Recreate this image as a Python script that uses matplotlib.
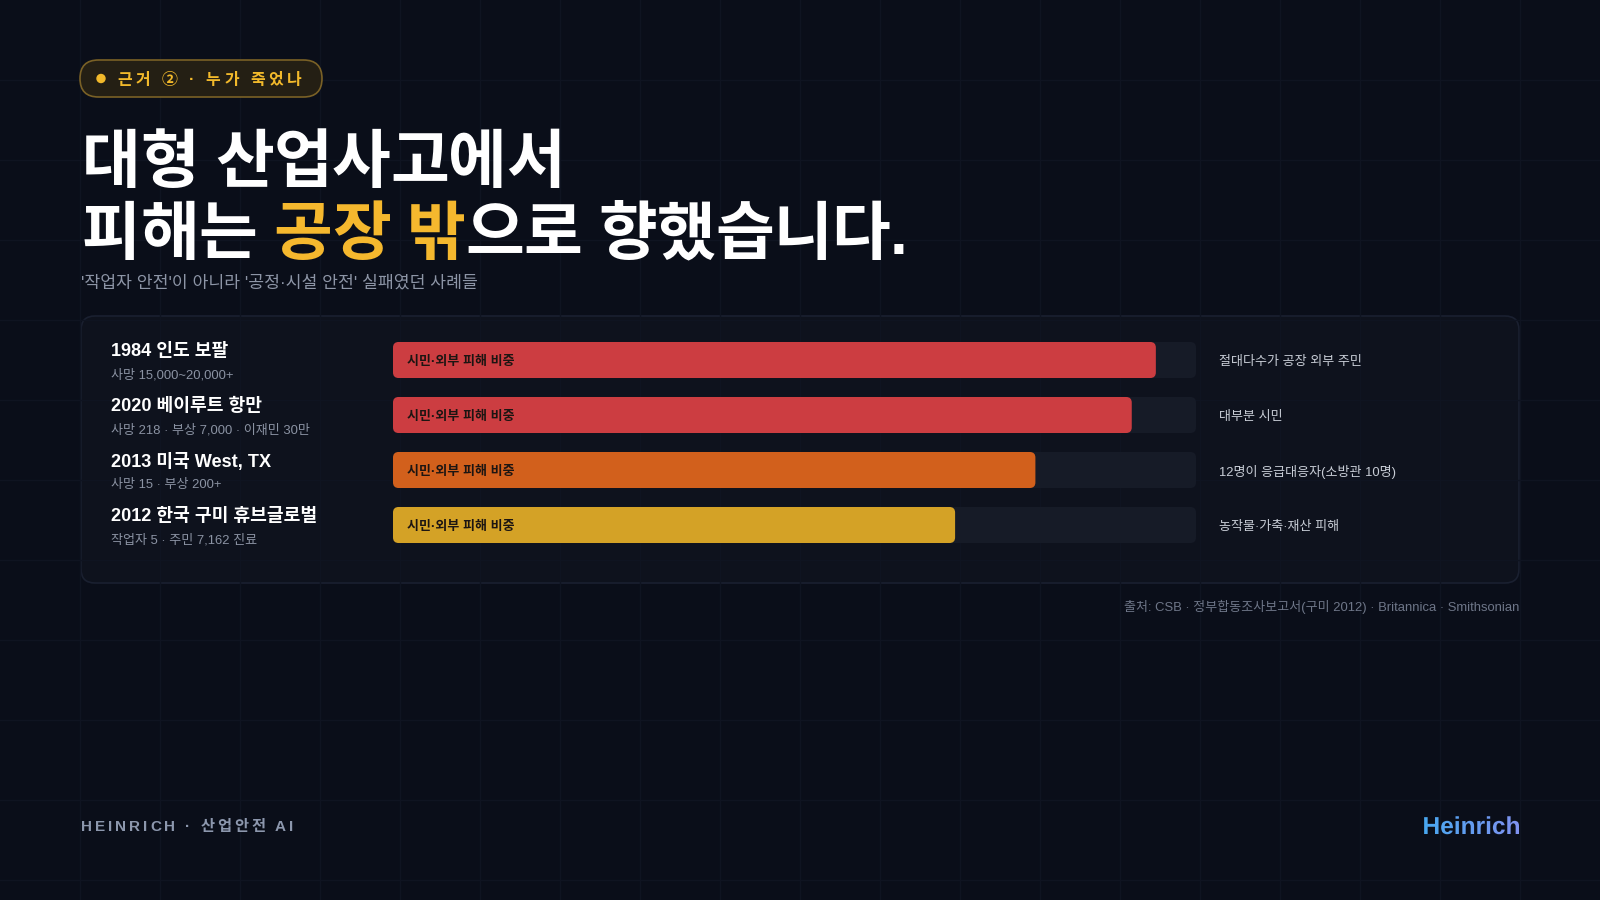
import numpy as np
import matplotlib
matplotlib.use("Agg")
import matplotlib.pyplot as plt
from matplotlib.patches import FancyBboxPatch, Circle, PathPatch
from matplotlib.transforms import blended_transform_factory, Affine2D
from matplotlib.textpath import TextPath
from matplotlib.font_manager import FontProperties
from matplotlib.colors import LinearSegmentedColormap

plt.rcParams['font.family'] = ['Liberation Sans', 'Noto Sans CJK KR', 'DejaVu Sans']

# Data
incidents = ['1984 인도 보팔', '2020 베이루트 항만', '2013 미국 West, TX', '2012 한국 구미 휴브글로벌']
casualties = ['사망 15,000~20,000+', '사망 218 · 부상 7,000 · 이재민 30만',
              '사망 15 · 부상 200+', '작업자 5 · 주민 7,162 진료']
external_share = [95, 92, 80, 70]
notes = ['절대다수가 공장 외부 주민', '대부분 시민', '12명이 응급대응자(소방관 10명)', '농작물·가축·재산 피해']
bar_label = '시민·외부 피해 비중'
bar_colors = ['#cc3d41', '#cc3d41', '#d2601c', '#d4a226']

badge_text = '근거 ② · 누가 죽었나'
title_line1 = '대형 산업사고에서'
title_line2 = [('피해는 ', 'white'), ('공장 밖', '#f5b82e'), ('으로 향했습니다.', 'white')]
subtitle = "'작업자 안전'이 아니라 '공정·시설 안전' 실패였던 사례들"
source = '출처: CSB · 정부합동조사보고서(구미 2012) · Britannica · Smithsonian'
footer_left = 'HEINRICH · 산업안전 AI'
footer_right = 'Heinrich'

BG = '#0a0e19'
GOLD = '#f2b92b'

fig = plt.figure(figsize=(16, 9), dpi=100)
fig.patch.set_facecolor(BG)
ax = fig.add_axes([0, 0, 1, 1])
ax.set_xlim(0, 1600)
ax.set_ylim(900, 0)
ax.axis('off')
renderer = fig.canvas.get_renderer()

# faint background grid
for g in np.arange(80, 1600, 80):
    ax.axvline(g, color='#0f1421', lw=1, zorder=0.5)
for g in np.arange(80, 900, 80):
    ax.axhline(g, color='#0f1421', lw=1, zorder=0.5)


def tw(s, **kw):
    t = ax.text(0, 0, s, **kw)
    w = t.get_window_extent(renderer).width
    t.remove()
    return w


def spaced(x, y, s, track=0, colors=None, **kw):
    # draw char by char so letter spacing can be changed
    for i, ch in enumerate(s):
        if ch == ' ':
            continue
        xi = x + tw(s[:i + 1], **kw) - tw(ch, **kw) + i * track
        c = colors[i] if colors else kw.get('color')
        kw2 = dict(kw)
        kw2['color'] = c
        ax.text(xi, y, ch, zorder=5, **kw2)


# badge
ax.add_patch(FancyBboxPatch((80, 60), 242, 37, boxstyle='round,pad=0,rounding_size=18.5',
                            facecolor='#241f14', edgecolor='#7a6126', lw=1.2, zorder=2))
ax.add_patch(Circle((101, 78.5), 4, color=GOLD, zorder=3))
spaced(117, 80, badge_text, track=3.5, fontsize=11.5, weight='bold', color=GOLD, va='center')

# title
spaced(82, 182, title_line1, track=-0.6, fontsize=46, weight='bold', color='white', va='baseline')
line2 = ''.join(p for p, _ in title_line2)
cols = [c for p, c in title_line2 for _ in p]
spaced(82, 254, line2, track=-0.6, colors=cols, fontsize=46, weight='bold', va='baseline')

ax.text(81, 283, subtitle, fontsize=12.4, color='#8d95a6', va='center')

# panel
ax.add_patch(FancyBboxPatch((81, 316), 1438, 267, boxstyle='round,pad=0,rounding_size=14',
                            facecolor=(1, 1, 1, 0.018), edgecolor='#1a2030', lw=1.2, zorder=0.3))

# bars
ax_b = fig.add_axes([393 / 1600, (900 - 552.5) / 900, 803 / 1600, 220 / 900])
ax_b.set_xlim(0, 100)
ax_b.set_ylim(3.5, -0.5)
ax_b.axis('off')
ax_b.patch.set_alpha(0)
rows = np.arange(len(incidents))
h = 0.655
ma = (803 / 100) / 55
for i, v in zip(rows, external_share):
    ax_b.add_patch(FancyBboxPatch((0, i - h / 2), 100, h, boxstyle='round,pad=0,rounding_size=0.7',
                                  mutation_aspect=ma, facecolor='#161b27', edgecolor='none'))
    ax_b.add_patch(FancyBboxPatch((0, i - h / 2), v, h, boxstyle='round,pad=0,rounding_size=0.7',
                                  mutation_aspect=ma, facecolor=bar_colors[i], edgecolor='none'))
    ax_b.text(1.7, i + 0.03, bar_label, fontsize=9.35, weight='bold', color='#1c1512', va='center')

tr = blended_transform_factory(ax.transData, ax_b.transData)
for i in rows:
    ax_b.text(111, i - 0.15, incidents[i], transform=tr, fontsize=13.1, weight='bold',
              color='white', va='center')
    ax_b.text(111, i + 0.27, casualties[i], transform=tr, fontsize=9.4, color='#8b93a3', va='center')
    ax_b.text(1219, i + 0.03, notes[i], transform=tr, fontsize=9.4, color='#c8cdd6', va='center')

# source
ax.text(1519, 607, source, fontsize=9.35, color='#6e7688', ha='right', va='center')

# footer
spaced(81, 827, footer_left, track=2.95, fontsize=11, weight='bold', color='#8c97ad', va='center')

fp = FontProperties(family='Liberation Sans', weight='bold')
tp = TextPath((0, 0), footer_right, size=24.5, prop=fp)
ext = tp.get_extents()
x_end, base = 1519, 834
trp = Affine2D().scale(1, -1).translate(x_end - ext.x1, base) + ax.transData
patch = PathPatch(tp, transform=trp, facecolor='none', edgecolor='none')
ax.add_patch(patch)
cmap = LinearSegmentedColormap.from_list('hb', ['#48a8f0', '#8092f0'])
im = ax.imshow(np.linspace(0, 1, 256).reshape(1, -1), cmap=cmap, aspect='auto',
               extent=[x_end - ext.width - 2, x_end + 1, base + 8, base - 22], zorder=5)
im.set_clip_path(patch)
ax.set_xlim(0, 1600)
ax.set_ylim(900, 0)

fig.savefig('out.png', dpi=100, facecolor=BG)
